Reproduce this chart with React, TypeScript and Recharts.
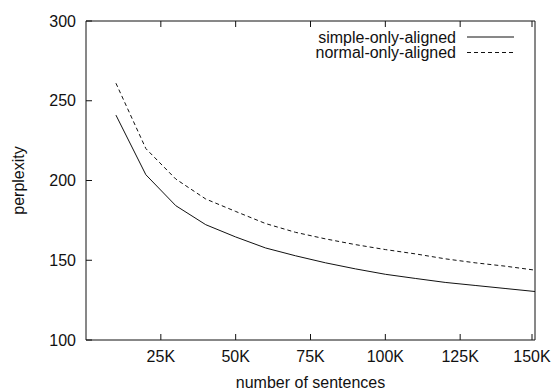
import React from 'react';
import { LineChart, Line, XAxis, YAxis, Legend } from 'recharts';

// number of sentences (x) and perplexity for each series
const sentences = [10000, 20000, 30000, 40000, 50000, 60000, 70000, 80000, 90000, 100000, 110000, 120000, 130000, 140000, 150000];
const simpleOnly = [241, 203.6, 184.2, 172.3, 164.6, 157.7, 152.8, 148.4, 144.6, 141.2, 138.6, 136.1, 134.2, 132.3, 130.4];
const normalOnly = [261, 220, 200.9, 188.4, 180.6, 173, 167.5, 163.4, 159.8, 156.7, 154, 150.9, 148.4, 146.3, 143.8];

const xTicks = [25000, 50000, 75000, 100000, 125000, 150000];
const yTicks = [100, 150, 200, 250, 300];

const seriesNames = ['simple-only-aligned', 'normal-only-aligned'];

const data = sentences.map((s, i) => ({ s, simple: simpleOnly[i], normal: normalOnly[i] }));

const FONT = '"Liberation Sans", Arial, sans-serif';
const INK = '#111';
const TICK = 6;

const BottomTick = (props: any) => {
  const { x, y, payload } = props;
  return (
    <g>
      <line x1={x} y1={y} x2={x} y2={y - TICK} stroke={INK} />
      <text x={x} y={y + 22} textAnchor="middle" fontSize={16} fontFamily={FONT} fill={INK}>
        {payload.value / 1000}K
      </text>
    </g>
  );
};

const LeftTick = (props: any) => {
  const { x, y, payload } = props;
  return (
    <g>
      <line x1={x} y1={y} x2={x + TICK} y2={y} stroke={INK} />
      <text x={x - 10} y={y + 5.5} textAnchor="end" fontSize={16} fontFamily={FONT} fill={INK}>
        {payload.value}
      </text>
    </g>
  );
};

const TopTick = (props: any) => {
  const { x, y } = props;
  return <line x1={x} y1={y} x2={x} y2={y + TICK} stroke={INK} />;
};

const RightTick = (props: any) => {
  const { x, y } = props;
  return <line x1={x} y1={y} x2={x - TICK} y2={y} stroke={INK} />;
};

const renderLegend = () => (
  <svg width={556} height={64} style={{ display: 'block' }}>
    {seriesNames.map((name, i) => {
      const cy = 37 + i * 15.5;
      return (
        <g key={name}>
          <text x={456} y={cy + 5.5} textAnchor="end" fontSize={16} fontFamily={FONT} fill={INK}>
            {name}
          </text>
          <line x1={467} y1={cy} x2={514} y2={cy} stroke={INK} strokeDasharray={i === 1 ? '4 3' : undefined} />
        </g>
      );
    })}
  </svg>
);

export default function App() {
  return (
    <div style={{ position: 'absolute', left: 0, top: 0, width: 556, height: 390, background: '#fff' }}>
      <LineChart width={556} height={390} data={data} margin={{ top: 0, right: 0, bottom: 0, left: 0 }}>
        <XAxis
          xAxisId="bottom"
          dataKey="s"
          type="number"
          domain={[0, 150000]}
          ticks={xTicks}
          height={50}
          tickSize={0}
          tickMargin={0}
          tickLine={false}
          tick={BottomTick}
          axisLine={{ stroke: INK }}
          label={{ value: 'number of sentences', position: 'insideBottom', offset: 2, fontSize: 16, fontFamily: FONT, fill: INK }}
        />
        <XAxis
          xAxisId="top"
          orientation="top"
          dataKey="s"
          type="number"
          domain={[0, 150000]}
          ticks={xTicks}
          height={21}
          tickSize={0}
          tickMargin={0}
          tickLine={false}
          tick={TopTick}
          axisLine={{ stroke: INK }}
        />
        <YAxis
          yAxisId="left"
          type="number"
          domain={[100, 300]}
          ticks={yTicks}
          width={86}
          tickSize={0}
          tickMargin={0}
          tickLine={false}
          tick={LeftTick}
          axisLine={{ stroke: INK }}
          label={{ value: 'perplexity', angle: -90, position: 'insideLeft', offset: 18, fontSize: 16, fontFamily: FONT, fill: INK, textAnchor: 'middle' }}
        />
        <YAxis
          yAxisId="right"
          orientation="right"
          type="number"
          domain={[100, 300]}
          ticks={yTicks}
          width={21}
          tickSize={0}
          tickMargin={0}
          tickLine={false}
          tick={RightTick}
          axisLine={{ stroke: INK }}
        />
        <Legend
          layout="horizontal"
          verticalAlign="middle"
          align="center"
          content={renderLegend}
          wrapperStyle={{ left: 0, top: 0, width: 556, height: 64 }}
        />
        <Line
          xAxisId="bottom"
          yAxisId="left"
          dataKey="simple"
          name={seriesNames[0]}
          stroke={INK}
          strokeWidth={1}
          dot={false}
          isAnimationActive={false}
        />
        <Line
          xAxisId="bottom"
          yAxisId="left"
          dataKey="normal"
          name={seriesNames[1]}
          stroke={INK}
          strokeWidth={1}
          strokeDasharray="4 3"
          dot={false}
          isAnimationActive={false}
        />
      </LineChart>
    </div>
  );
}
